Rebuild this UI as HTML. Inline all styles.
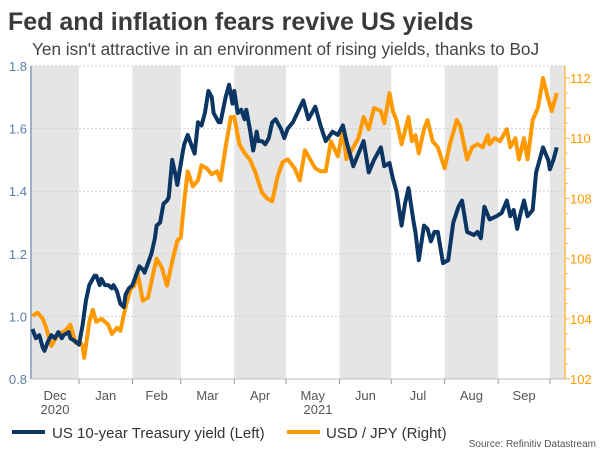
<!DOCTYPE html>
<html><head><meta charset="utf-8"><style>
body{margin:0;width:600px;height:450px;background:#fff;overflow:hidden;font-family:"Liberation Sans",sans-serif}
</style></head><body>
<svg id="c" width="600" height="450" xmlns="http://www.w3.org/2000/svg">
<text x="8" y="30" font-size="25" font-weight="bold" fill="#3a3a3a">Fed and inflation fears revive US yields</text>
<text x="32" y="55" font-size="17.2" fill="#444">Yen isn't attractive in an environment of rising yields, thanks to BoJ</text>
<g id="bands"></g><g id="grid"></g><g id="axes"></g><g id="series"></g>
<text x="55" y="414" font-size="13" fill="#555" text-anchor="middle">2020</text>
<text x="318" y="414" font-size="13" fill="#555" text-anchor="middle">2021</text>
<line x1="12" y1="432" x2="45" y2="432" stroke="#0b3563" stroke-width="4"/>
<text x="52" y="438" font-size="15" fill="#333">US 10-year Treasury yield (Left)</text>
<line x1="287" y1="432" x2="320" y2="432" stroke="#ff9900" stroke-width="4"/>
<text x="326" y="438" font-size="15" fill="#333">USD / JPY (Right)</text>
<text x="596" y="447" font-size="10" fill="#555" text-anchor="end">Source: Refinitiv Datastream</text>
</svg>
<script>
const monthStarts=[-31,0,31,59,90,120,151,181,212,243,273];
const monthLabels=["Dec","Jan","Feb","Mar","Apr","May","Jun","Jul","Aug","Sep"];
const leftTicks=[0.8,1.0,1.2,1.4,1.6,1.8];
const rightTicks=[102,104,106,108,110,112];
const ustDays=[-27,-25,-23,-21,-20,-18,-16,-14,-12,-10,-9,-6,-5,-2,0,2,4,6,9,10,12,13,15,17,19,20,22,24,26,27,29,31,33,35,37,38,40,42,44,45,47,49,51,52,54,56,57,60,61,63,65,67,69,71,73,75,77,78,81,82,85,87,89,90,92,94,96,97,99,101,103,104,106,108,110,112,114,117,119,121,124,130,133,137,140,143,147,150,153,155,159,162,165,168,171,175,177,180,182,184,187,189,191,194,195,197,200,202,204,206,208,211,214,217,220,222,225,229,231,233,235,238,242,245,248,250,252,254,256,258,260,263,265,267,269,272,273,275,277];
const ustYield=[0.96,0.93,0.94,0.90,0.89,0.92,0.94,0.93,0.95,0.93,0.94,0.95,0.93,0.92,0.91,0.97,1.05,1.10,1.13,1.13,1.10,1.12,1.10,1.10,1.09,1.10,1.08,1.04,1.03,1.07,1.09,1.10,1.13,1.16,1.15,1.14,1.17,1.20,1.25,1.29,1.30,1.36,1.37,1.38,1.50,1.45,1.42,1.52,1.55,1.58,1.55,1.52,1.62,1.61,1.65,1.72,1.70,1.65,1.62,1.62,1.70,1.74,1.68,1.72,1.65,1.66,1.63,1.66,1.60,1.53,1.59,1.56,1.56,1.55,1.57,1.62,1.63,1.60,1.57,1.60,1.62,1.69,1.63,1.67,1.61,1.56,1.59,1.58,1.61,1.56,1.48,1.52,1.56,1.46,1.50,1.54,1.48,1.49,1.44,1.40,1.29,1.36,1.41,1.30,1.27,1.18,1.29,1.28,1.24,1.27,1.27,1.17,1.18,1.30,1.35,1.37,1.27,1.26,1.27,1.25,1.35,1.31,1.32,1.33,1.37,1.32,1.34,1.28,1.33,1.37,1.32,1.34,1.46,1.50,1.54,1.50,1.47,1.50,1.54];
const jpyDays=[-27,-24,-21,-19,-16,-12,-8,-5,-2,1,2,3,6,8,10,13,15,17,19,22,24,27,30,32,34,37,40,43,45,48,51,54,57,59,61,63,66,69,71,74,77,80,82,85,88,90,93,96,99,102,106,109,112,115,118,121,125,128,131,134,137,140,143,146,150,153,155,158,162,165,168,171,175,177,180,182,184,187,191,193,195,197,200,202,205,208,212,215,219,221,225,228,231,234,237,238,241,244,248,250,253,255,258,260,263,266,269,272,274,277];
const usdJpy=[104.1,104.2,104.0,103.7,103.1,103.5,103.6,103.8,103.2,103.2,103.1,102.7,103.9,104.3,103.9,104.0,103.9,103.8,103.5,103.7,103.6,104.4,105.0,105.1,105.5,104.6,104.7,105.5,106.0,105.7,105.1,105.9,106.6,106.7,107.9,108.9,108.4,108.6,109.1,109.0,108.8,108.9,108.6,109.7,110.7,110.7,109.8,109.5,109.3,108.9,108.2,108.0,107.9,108.7,109.2,109.3,109.0,108.6,109.6,109.3,109.0,108.9,108.9,109.9,109.4,110.3,109.3,109.6,110.0,110.7,110.3,111.0,110.9,110.5,111.5,110.9,110.6,109.8,110.7,109.9,110.1,109.5,110.3,110.6,109.9,109.7,109.0,109.8,110.6,110.4,109.3,109.7,109.8,109.7,110.1,109.8,110.0,109.9,110.3,109.7,110.0,109.3,110.0,109.3,110.6,111.0,112.0,111.3,110.9,111.5];

const L=31,R=565,T=66,B=379;
const x=d=>79+d*1.725;
const yL=v=>B-(v-0.8)*(B-T);
const yR=v=>B-(v-102)*30.1;
const NS="http://www.w3.org/2000/svg";
function mk(tag,attrs,parent){const e=document.createElementNS(NS,tag);for(const k in attrs)e.setAttribute(k,attrs[k]);document.getElementById(parent).appendChild(e);return e;}
for(let i=0;i<monthStarts.length;i+=2){
  const a=Math.max(L,x(monthStarts[i])),b=i+1<monthStarts.length?x(monthStarts[i+1]):R;
  const r=mk('rect',{x:a,y:T,width:Math.min(R,b)-a,height:B-T,fill:'#e5e5e5'},'bands');
  
  
}
leftTicks.forEach(v=>{
  const g=mk('line',{x1:L,x2:R,y1:yL(v),y2:yL(v),stroke:'#cfcfcf','stroke-dasharray':'2,2','stroke-width':1},'grid');
  
  
  const t=mk('text',{x:L-4,y:yL(v)+5,'font-size':13,fill:'#5b7ea6','text-anchor':'end'},'axes');t.textContent=v.toFixed(1);
  
  
});
rightTicks.forEach(v=>{
  const t=mk('text',{x:R+5,y:yR(v)+5,'font-size':13,fill:'#ff9900'},'axes');t.textContent=v;
  
  
});
for(let v=102;v<=112.4;v+=0.5){mk('line',{x1:R,x2:R+(Number.isInteger(v)?5:3),y1:yR(v),y2:yR(v),stroke:'#ffb84d'},'axes');}
const la=mk('line',{x1:L,x2:L,y1:T,y2:B,stroke:'#9db0c8','stroke-width':2},'axes');


const ra=mk('line',{x1:R,x2:R,y1:T,y2:B,stroke:'#ffb84d','stroke-width':1.5},'axes');


const xa=mk('line',{x1:L,x2:R,y1:B,y2:B,stroke:'#bbb'},'axes');


monthStarts.forEach((d,i)=>{
  if(i>0)mk('line',{x1:x(d),x2:x(d),y1:B,y2:B+5,stroke:'#999'},'axes');
  if(i<monthLabels.length){
    const c=(Math.max(L,x(d))+x(monthStarts[i+1]))/2;
    const t=mk('text',{x:i===0?55:c,y:400,'font-size':13,fill:'#555','text-anchor':'middle'},'axes');t.textContent=monthLabels[i];
    
    
  }
});
function line(days,vals,yf,col,name){
  const d=days.map((dd,i)=>(i?'L':'M')+x(dd).toFixed(1)+','+yf(vals[i]).toFixed(1)).join('');
  const p=mk('path',{d:d,fill:'none',stroke:col,'stroke-width':4,'stroke-linejoin':'round'},'series');
  
  
}
line(jpyDays,usdJpy,yR,'#ff9900','usdjpy-line');
line(ustDays,ustYield,yL,'#0b3563','treasury-yield-line');
</script>
</body></html>
